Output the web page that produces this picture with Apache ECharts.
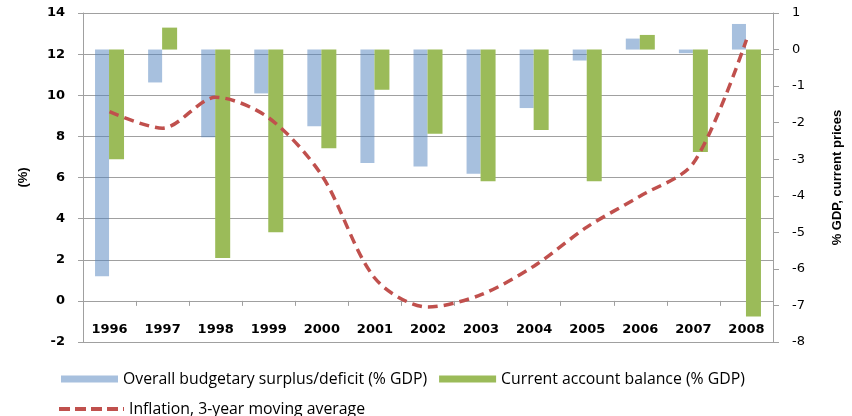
<!DOCTYPE html>
<html>
<head>
<meta charset="utf-8">
<script src="https://cdn.jsdelivr.net/npm/echarts@6/dist/echarts.min.js"></script>
<style>
  html, body { margin: 0; padding: 0; background: #fff; }
  #chart { width: 852px; height: 416px; }
</style>
</head>
<body>
<div id="chart"></div>
<script>
// values
const years = ['1996', '1997', '1998', '1999', '2000', '2001', '2002', '2003', '2004', '2005', '2006', '2007', '2008'];
const budgetBalance = [-6.2, -0.9, -2.4, -1.2, -2.1, -3.1, -3.2, -3.4, -1.6, -0.3, 0.3, -0.1, 0.7];
const currentAccount = [-3.0, 0.6, -5.7, -5.0, -2.7, -1.1, -2.3, -3.6, -2.2, -3.6, 0.4, -2.8, -7.3];
const inflation = [9.2, 8.4, 9.9, 8.9, 6.1, 1.1, -0.3, 0.3, 1.7, 3.6, 5.1, 6.7, 12.7];

const gridColor = '#a0a0a0';
const gridTop = 13, gridBottom = 74, chartH = 416;
const leftMin = -2, leftMax = 14;
// x axis sits on the 0 line of the left axis
const plotH = chartH - gridTop - gridBottom;
const xAxisOffset = -plotH * (0 - leftMin) / (leftMax - leftMin);

const chart = echarts.init(document.getElementById('chart'), null, { renderer: 'canvas' });

const option = {
  animation: false,
  backgroundColor: '#fff',
  grid: { left: 83, right: 69, top: gridTop, bottom: gridBottom },
  legend: [
    {
      left: 56, top: 366,
      itemWidth: 57, itemHeight: 7, itemGap: 12,
      icon: 'rect',
      data: ['Overall budgetary surplus/deficit (% GDP)', 'Current account balance (% GDP)'],
      textStyle: { fontFamily: 'Open Sans', fontSize: 15.8, color: '#000' }
    },
    {
      left: 52, top: 396,
      itemWidth: 65, itemHeight: 14,
      itemStyle: { opacity: 0 },
      lineStyle: { width: 4, type: [11, 5] },
      data: ['Inflation, 3-year moving average'],
      textStyle: { fontFamily: 'Open Sans', fontSize: 15.8, color: '#000' }
    }
  ],
  xAxis: {
    type: 'category',
    data: years,
    offset: xAxisOffset,
    axisLine: { onZero: false, lineStyle: { color: gridColor, width: 1 } },
    axisTick: { show: true, length: 5, lineStyle: { color: gridColor } },
    axisLabel: { margin: 22, fontFamily: 'DejaVu Sans', fontWeight: 'bold', fontSize: 13, color: '#000' },
    splitLine: { show: false }
  },
  yAxis: [
    {
      type: 'value',
      min: leftMin, max: leftMax, interval: 2,
      name: '(%)',
      nameLocation: 'middle',
      nameRotate: 90,
      nameGap: 53,
      nameMoveOverlap: false,
      nameTextStyle: { fontFamily: 'Liberation Sans', fontWeight: 'bold', fontSize: 13, color: '#000' },
      axisLine: { show: true, lineStyle: { color: gridColor } },
      axisTick: { show: true, length: 5, lineStyle: { color: gridColor } },
      axisLabel: { margin: 18, fontFamily: 'DejaVu Sans', fontWeight: 'bold', fontSize: 13, color: '#000' },
      splitLine: { show: true, lineStyle: { color: gridColor, width: 1 } }
    },
    {
      type: 'value',
      position: 'right',
      min: -8, max: 1, interval: 1,
      name: '% GDP, current prices',
      nameLocation: 'middle',
      nameRotate: 90,
      nameGap: 58,
      nameMoveOverlap: false,
      nameTextStyle: { fontFamily: 'Liberation Sans', fontWeight: 'bold', fontSize: 13, color: '#000' },
      axisLine: { show: true, lineStyle: { color: gridColor } },
      axisTick: { show: true, length: 6, lineStyle: { color: gridColor } },
      axisLabel: { margin: 19, fontFamily: 'DejaVu Sans', fontSize: 13, color: '#000' },
      splitLine: { show: false }
    }
  ],
  series: [
    {
      name: 'Overall budgetary surplus/deficit (% GDP)',
      type: 'bar',
      yAxisIndex: 1,
      data: budgetBalance,
      barWidth: 14,
      barGap: '0%',
      itemStyle: { color: 'rgba(79,129,189,0.5)' }
    },
    {
      name: 'Current account balance (% GDP)',
      type: 'bar',
      yAxisIndex: 1,
      data: currentAccount,
      barWidth: 15,
      barGap: '0%',
      itemStyle: { color: '#9bbb59' }
    },
    {
      name: 'Inflation, 3-year moving average',
      type: 'line',
      yAxisIndex: 0,
      data: inflation,
      symbol: 'none',
      smooth: 0.3,
      z: 5,
      lineStyle: { color: '#c0504d', width: 3.5, type: [10, 6] },
      itemStyle: { color: '#c0504d' }
    }
  ]
};

chart.setOption(option);
</script>
</body>
</html>
